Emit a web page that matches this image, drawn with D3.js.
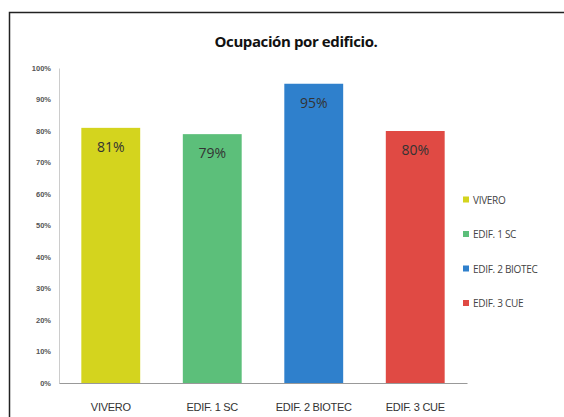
<!DOCTYPE html>
<html>
<head>
<meta charset="utf-8">
<script src="https://cdn.jsdelivr.net/npm/d3@7"></script>
<style>
  body { margin: 0; background: #fff; }
  svg { display: block; font-family: "Open Sans", sans-serif; }
</style>
</head>
<body>
<div id="main"></div>
<script>
const categories = ["VIVERO", "EDIF. 1 SC", "EDIF. 2 BIOTEC", "EDIF. 3 CUE"];
const values = [0.81, 0.79, 0.95, 0.80];
const colors = ["#d4d41e", "#5cbf7a", "#2f80cc", "#e04a44"];
const yTicks = [0, 0.1, 0.2, 0.3, 0.4, 0.5, 0.6, 0.7, 0.8, 0.9, 1];

onload = () => {
    const d3 = window.d3;
    let svg = d3.select("#main").append("svg");
    svg.attr("width", 564).attr("height", 417);

    // frame
    svg.append("rect")
        .attr("x", 9.5).attr("y", 12.5)
        .attr("width", 570).attr("height", 420)
        .attr("fill", "#fff")
        .attr("stroke", "#222")
        .attr("stroke-width", 1.5);

    svg.append("text")
        .attr("x", 296).attr("y", 47)
        .attr("text-anchor", "middle")
        .style("font-size", "15px")
        .style("font-weight", "bold")
        .style("letter-spacing", "-0.4px")
        .attr("fill", "#111")
        .text("Ocupación por edificio.");

    let data = categories.map((c, i) => ({ name: c, value: values[i], color: colors[i] }));

    let xScale = d3.scaleBand()
        .domain(categories)
        .range([59, 467])
        .paddingInner(0.42)
        .paddingOuter(0.22);

    let yScale = d3.scaleLinear().domain([0, 1]).range([383, 68]);

    let axisLeft = d3.axisLeft(yScale)
        .tickValues(yTicks)
        .tickFormat(d3.format(".0%"))
        .tickSize(0)
        .tickPadding(8);

    let gy = svg.append("g")
        .attr("transform", "translate(59, 0)")
        .call(axisLeft);
    gy.select(".domain").attr("stroke", "#ccc");
    gy.selectAll("text")
        .style("font-size", "7.5px")
        .style("font-weight", "bold")
        .attr("fill", "#555");

    let axisBottom = d3.axisBottom(xScale).tickSize(0).tickPadding(20);
    let gx = svg.append("g")
        .attr("transform", "translate(0, 383)")
        .call(axisBottom);
    gx.select(".domain").attr("stroke", "#999");
    gx.selectAll("text")
        .style("font-size", "11px")
        .style("letter-spacing", "-0.3px")
        .attr("fill", "#333");

    let bars = svg.selectAll(".bar").data(data).enter().append("g").classed("bar", true);

    bars.append("rect")
        .attr("x", (d) => xScale(d.name))
        .attr("y", (d) => yScale(d.value))
        .attr("width", xScale.bandwidth())
        .attr("height", (d) => yScale(0) - yScale(d.value))
        .attr("fill", (d) => d.color);

    bars.append("text")
        .attr("x", (d) => xScale(d.name) + xScale.bandwidth() / 2)
        .attr("y", (d) => yScale(d.value) + 24)
        .attr("text-anchor", "middle")
        .style("font-size", "14px")
        .attr("fill", "#333")
        .text((d) => Math.round(d.value * 100) + "%");

    let legend = svg.selectAll(".legend").data(data).enter().append("g")
        .classed("legend", true)
        .attr("transform", (d, i) => `translate(463, ${200 + i * 34.5})`);

    legend.append("rect")
        .attr("x", 0).attr("y", -3.5)
        .attr("width", 6).attr("height", 6)
        .attr("fill", (d) => d.color);

    legend.append("text")
        .attr("x", 10).attr("y", 3.5)
        .style("font-size", "10px")
        .style("letter-spacing", "-0.3px")
        .attr("fill", "#444")
        .text((d) => d.name);
};
</script>
</body>
</html>
